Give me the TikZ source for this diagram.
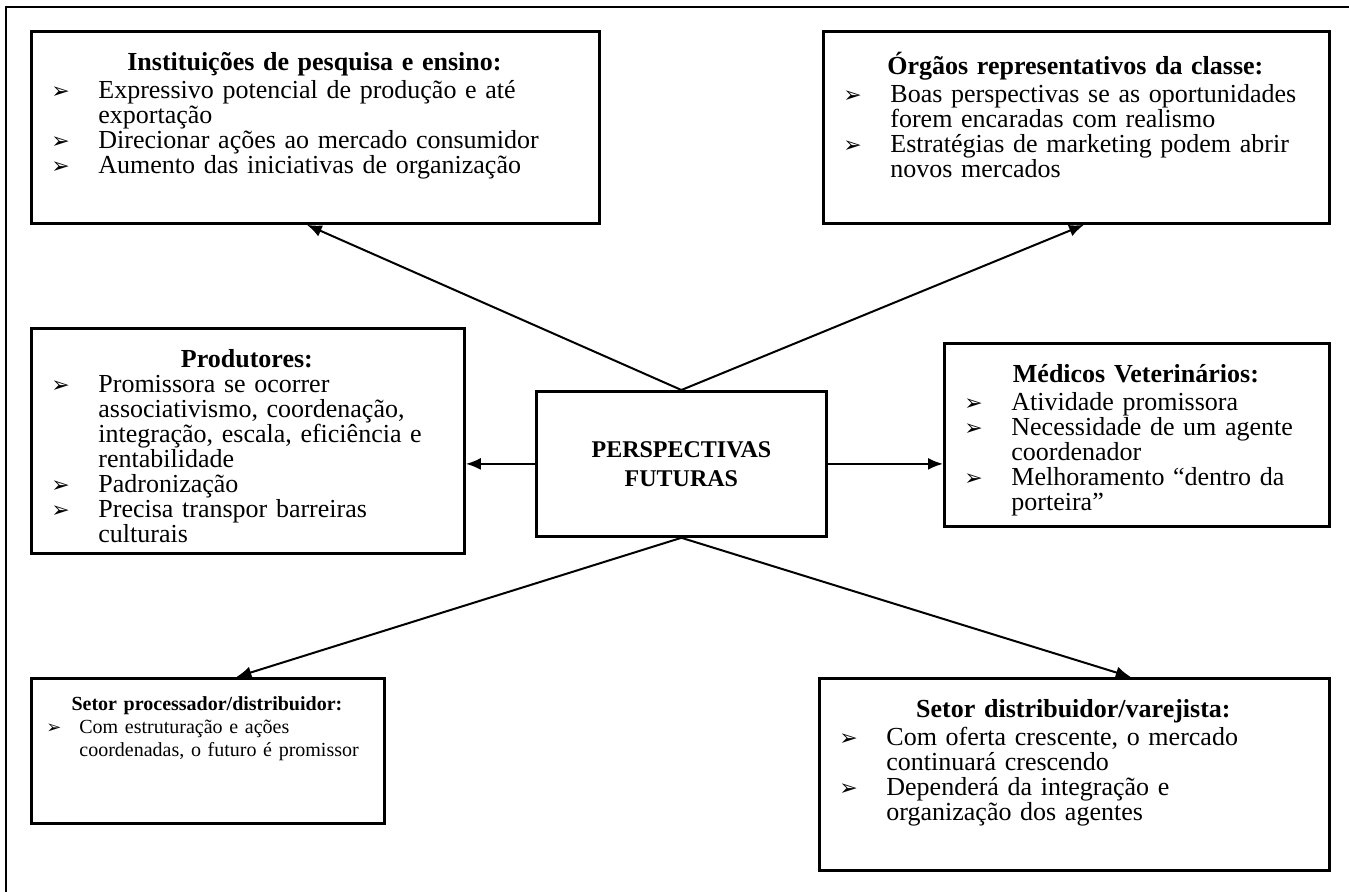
\documentclass[tikz,border=0pt]{standalone}
\usepackage{fontspec}
\setmainfont{Liberation Serif}
\newfontfamily\dejavu{DejaVu Sans}
\usetikzlibrary{arrows.meta,positioning,calc}

\setlength{\lineskiplimit}{-\maxdimen}
\newlength{\recuo}
\setlength{\recuo}{23.5pt}
\newcommand{\marca}{{\dejavu\fontsize{11}{11}\selectfont\symbol{"27A2}}}
\newcommand{\topico}{\par\noindent\hangindent=\recuo\hangafter=1\makebox[\recuo][l]{\marca}}
\newcommand{\titulo}[1]{{\centering\bfseries\strut #1\par}}

\tikzset{
  caixa/.style 2 args={draw, line width=1.4pt, inner sep=0pt, anchor=north west,
    minimum width=#1*0.5pt, minimum height=#2*0.5pt},
  texto/.style={anchor=north west, inner sep=0pt, align=left, text width=#1*0.5pt,
    font=\fontsize{13}{12.5}\selectfont},
  seta/.style={line width=1pt, -{Latex[length=7.5pt,width=6pt]}}
}

\begin{document}
\begin{tikzpicture}[x=0.5pt,y=-0.5pt]
\useasboundingbox (0,0) rectangle (1349,892);
% moldura
\draw[line width=1.1pt] (6,892) -- (6,7) -- (1349,7);

% caixas
\node[caixa={568}{192}] (inst) at (30,30) {};
\node[caixa={506}{192}] (orgaos) at (822,30) {};
\node[caixa={433}{225}] (prod) at (30,327) {};
\node[caixa={290}{145}] (pf) at (535,390) {};
\node[caixa={385}{183}] (med) at (943,342) {};
\node[caixa={353}{145}] (proc) at (30,677) {};
\node[caixa={510}{192}] (vare) at (818,677) {};

% textos
\node[texto=526] (inst-t) at ($(inst.north west)+(21,22)$) {%
  \titulo{Instituições de pesquisa e ensino:}
  \topico Expressivo potencial de produção e até\newline exportação
  \topico Direcionar ações ao mercado consumidor
  \topico Aumento das iniciativas de organização\par};
\node[texto=464] (orgaos-t) at ($(orgaos.north west)+(21,22)$) {%
  \titulo{Órgãos representativos da classe:}
  \topico Boas perspectivas se as oportunidades\newline forem encaradas com realismo
  \topico Estratégias de marketing podem abrir\newline novos mercados\par};
\node[texto=391] (prod-t) at ($(prod.north west)+(21,22)$) {%
  \titulo{Produtores:}
  \topico Promissora se ocorrer\newline associativismo, coordenação,\newline integração, escala, eficiência e\newline rentabilidade
  \topico Padronização
  \topico Precisa transpor barreiras\newline culturais\par};
\node[texto=343] (med-t) at ($(med.north west)+(21,22)$) {%
  \titulo{Médicos Veterinários:}
  \topico Atividade promissora
  \topico Necessidade de um agente\newline coordenador
  \topico Melhoramento “dentro da\newline porteira”\par};
\node[texto=321, font=\fontsize{10}{11.5}\selectfont] (proc-t) at ($(proc.north west)+(16,17)$) {%
  \setlength{\recuo}{16.5pt}%
  \renewcommand{\marca}{{\dejavu\fontsize{9}{9}\selectfont\symbol{"27A2}}}%
  \titulo{Setor processador/distribuidor:}
  \topico Com estruturação e ações\newline coordenadas, o futuro é promissor\par};
\node[texto=468] (vare-t) at ($(vare.north west)+(21,22)$) {%
  \titulo{Setor distribuidor/varejista:}
  \topico Com oferta crescente, o mercado\newline continuará crescendo
  \topico Dependerá da integração e\newline organização dos agentes\par};
\node[align=center, font=\bfseries\fontsize{12}{14.5}\selectfont] (pf-t) at (pf.center) {PERSPECTIVAS\\FUTURAS};

% setas
\draw[seta] (pf.north) -- ($(inst.south west)!0.485!(inst.south east)$);
\draw[seta] (pf.north) -- ($(orgaos.south west)!0.515!(orgaos.south east)$);
\draw[seta] (pf.west) -- (pf.west -| prod.east);
\draw[seta] (pf.east) -- (pf.east -| med.west);
\draw[seta] (pf.south) -- ($(proc.north west)!0.58!(proc.north east)$);
\draw[seta] (pf.south) -- ($(vare.north west)!0.61!(vare.north east)$);
\end{tikzpicture}
\end{document}
